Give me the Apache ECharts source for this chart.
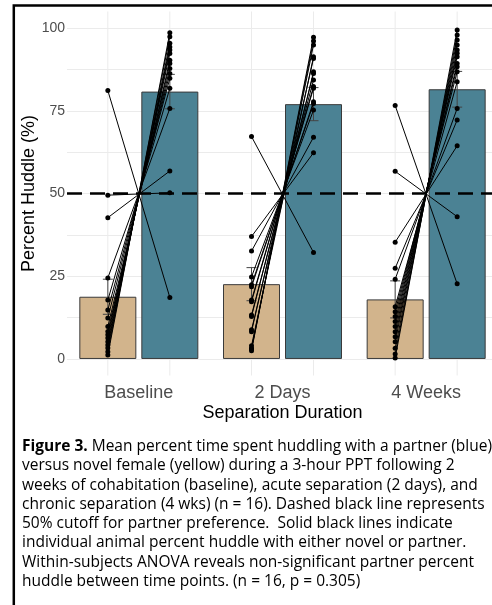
<!DOCTYPE html>
<html><head><meta charset="utf-8">
<script src="https://cdn.jsdelivr.net/npm/echarts@6/dist/echarts.min.js"></script>
<style>html,body{margin:0;padding:0;background:#fff}#c{width:492px;height:605px}</style>
</head><body><div id="c"></div>
<script>
// ---- data ----
const categories = ['Baseline', '2 Days', '4 Weeks'];
const novelMean = [18.8, 22.6, 18.0];
const novelSE = [5.3, 5.0, 5.6];
const partnerMean = [80.8, 77.0, 81.5];
const partnerSE = [5.2, 5.0, 5.4];

const novelBaseline   = [81.1, 49.5, 42.7, 24.5, 17.8, 14.8, 12.4, 9.8, 8.3, 7.3, 6.3, 5.2, 4.2, 3.3, 2.2, 1.2];
const partnerBaseline = [18.6, 50.2, 56.8, 75.7, 81.8, 84.8, 86.3, 87.8, 89.3, 90.3, 92.3, 93.4, 94.3, 95.4, 97.4, 98.6];
const novel2Days      = [67.2, 37.0, 32.6, 24.8, 22.4, 21.8, 17.8, 17.3, 13.3, 12.8, 8.8, 8.2, 4.0, 3.2, 3.0, 2.5];
const partner2Days    = [32.2, 62.3, 67.0, 75.2, 77.2, 77.7, 81.8, 82.3, 84.3, 86.3, 86.8, 90.8, 91.3, 94.9, 96.1, 97.2];
const novel4Weeks     = [76.6, 56.7, 35.3, 27.4, 24.1, 15.8, 14.3, 12.8, 11.3, 9.8, 8.2, 6.7, 5.2, 3.2, 1.5, 0.3];
const partner4Weeks   = [22.7, 43.0, 64.4, 72.2, 75.7, 83.8, 86.8, 88.3, 89.3, 91.3, 92.4, 93.4, 94.9, 96.4, 97.9, 99.4];

const yTickLabels = [0, 25, 50, 75, 100];
const yGridValues = [0, 12.5, 25, 37.5, 50, 62.5, 75, 87.5, 100];
const cutoff = 50;

const captionLines = [
  '{b|Figure 3.} Mean percent time spent huddling with a partner (blue)',
  'versus novel female (yellow) during a 3-hour PPT following 2',
  'weeks of cohabitation (baseline), acute separation (2 days), and',
  'chronic separation (4 wks) (n = 16). Dashed black line represents',
  '50% cutoff for partner preference.  Solid black lines indicate',
  'individual animal percent huddle with either novel or partner.',
  'Within-subjects ANOVA reveals non-significant partner percent',
  'huddle between time points. (n = 16, p = 0.305)'
];

// ---- layout ----
const W = 492;
const gridLeft = 67, gridRight = -6, gridTop = 11.5, gridBottom = 229.5;
const gridWidth = W - gridLeft - gridRight;
const bandPx = gridWidth / categories.length;
const barWidth = 57, barGapPx = 5;
const offset = (barWidth + barGapPx) / 2 / bandPx; // in band units

const novelSets = [novelBaseline, novel2Days, novel4Weeks];
const partnerSets = [partnerBaseline, partner2Days, partner4Weeks];

const chart = echarts.init(document.getElementById('c'), null, {renderer: 'canvas'});

const series = [];
// vertical grid lines at bar centres
const vgrid = [];
categories.forEach((c, i) => { vgrid.push(i + 0.5 - offset, i + 0.5 + offset); });
series.push({
  type: 'custom', xAxisIndex: 1, yAxisIndex: 0, silent: true, z: 0, animation: false,
  data: vgrid.map(v => [v]),
  renderItem: (params, api) => {
    const p1 = api.coord([api.value(0), 105]);
    const p2 = api.coord([api.value(0), -5]);
    return {type: 'line', shape: {x1: p1[0], y1: p1[1], x2: p2[0], y2: p2[1]},
            style: {stroke: '#ebebeb', lineWidth: 1}};
  }
});
series.push({
  name: 'Novel', type: 'bar', xAxisIndex: 0, yAxisIndex: 0, data: novelMean,
  barWidth: barWidth, barGap: (barGapPx / barWidth * 100) + '%', z: 2,
  itemStyle: {color: '#d2b48c', borderColor: '#3a3a3a', borderWidth: 1}, animation: false
});
series.push({
  name: 'Partner', type: 'bar', xAxisIndex: 0, yAxisIndex: 0, data: partnerMean,
  barWidth: barWidth, barGap: (barGapPx / barWidth * 100) + '%', z: 2,
  itemStyle: {color: '#4b8294', borderColor: '#3a3a3a', borderWidth: 1}, animation: false
});
// error bars
const errData = [];
categories.forEach((c, i) => {
  errData.push([i + 0.5 - offset, novelMean[i] - novelSE[i], novelMean[i] + novelSE[i]]);
  errData.push([i + 0.5 + offset, partnerMean[i] - partnerSE[i], partnerMean[i] + partnerSE[i]]);
});
series.push({
  type: 'custom', xAxisIndex: 1, yAxisIndex: 0, silent: true, z: 3, animation: false,
  data: errData,
  renderItem: (params, api) => {
    const lo = api.coord([api.value(0), api.value(1)]);
    const hi = api.coord([api.value(0), api.value(2)]);
    const cap = 5;
    const st = {stroke: '#444', lineWidth: 1};
    return {type: 'group', children: [
      {type: 'line', shape: {x1: lo[0], y1: lo[1], x2: hi[0], y2: hi[1]}, style: st},
      {type: 'line', shape: {x1: lo[0] - cap, y1: lo[1], x2: lo[0] + cap, y2: lo[1]}, style: st},
      {type: 'line', shape: {x1: hi[0] - cap, y1: hi[1], x2: hi[0] + cap, y2: hi[1]}, style: st}
    ]};
  },
  markLine: {
    silent: true, symbol: 'none', label: {show: false},
    lineStyle: {color: '#000', width: 2.5, type: [15, 8]},
    data: [{yAxis: cutoff}]
  }
});
// individual animal lines
categories.forEach((c, i) => {
  novelSets[i].forEach((nv, k) => {
    series.push({
      type: 'line', xAxisIndex: 1, yAxisIndex: 0, silent: true, z: 4, animation: false,
      data: [[i + 0.5 - offset, nv], [i + 0.5 + offset, partnerSets[i][k]]],
      symbol: 'circle', symbolSize: 5, showSymbol: true,
      lineStyle: {color: '#000', width: 1}, itemStyle: {color: '#000'}
    });
  });
});

const graphics = [
  {type: 'rect', z: 100, silent: true,
   shape: {x: 13.8, y: 5.5, width: 600, height: 700},
   style: {fill: 'none', stroke: '#000', lineWidth: 2.5}}
];
captionLines.forEach((t, i) => {
  graphics.push({
    type: 'text', z: 100, silent: true, left: 22, top: 438.5 + i * 19.3,
    style: {text: t, font: '15.5px "Open Sans"', fill: '#000',
            rich: {b: {fontWeight: 'bold', fontSize: 15.5, fontFamily: 'Open Sans'}}}
  });
});

chart.setOption({
  animation: false,
  backgroundColor: '#fff',
  grid: {left: gridLeft, right: gridRight, top: gridTop, bottom: gridBottom, containLabel: false, outerBoundsMode: 'none'},
  xAxis: [
    {type: 'category', data: categories, position: 'bottom',
     axisLine: {show: false}, axisTick: {show: false}, splitLine: {show: false},
     axisLabel: {fontSize: 18, color: '#4d4d4d', margin: 9, fontFamily: 'Liberation Sans'},
     name: 'Separation Duration', nameLocation: 'middle', nameGap: 29, nameMoveOverlap: false,
     nameTextStyle: {fontSize: 18, color: '#000', fontFamily: 'Liberation Sans'}},
    {type: 'value', min: 0, max: categories.length, show: false}
  ],
  yAxis: [
    {type: 'value', min: -5, max: 105,
     axisLine: {show: false},
     axisTick: {show: false, customValues: yGridValues},
     axisLabel: {customValues: yTickLabels, fontSize: 14, color: '#4d4d4d', margin: 2, fontFamily: 'Liberation Sans'},
     splitLine: {show: true, lineStyle: {color: '#ebebeb', width: 1}},
     name: 'Percent Huddle (%)', nameLocation: 'middle', nameGap: 29, nameMoveOverlap: false,
     nameTextStyle: {fontSize: 18, color: '#000', fontFamily: 'Liberation Sans'}}
  ],
  series: series,
  graphic: graphics
});
</script></body></html>
